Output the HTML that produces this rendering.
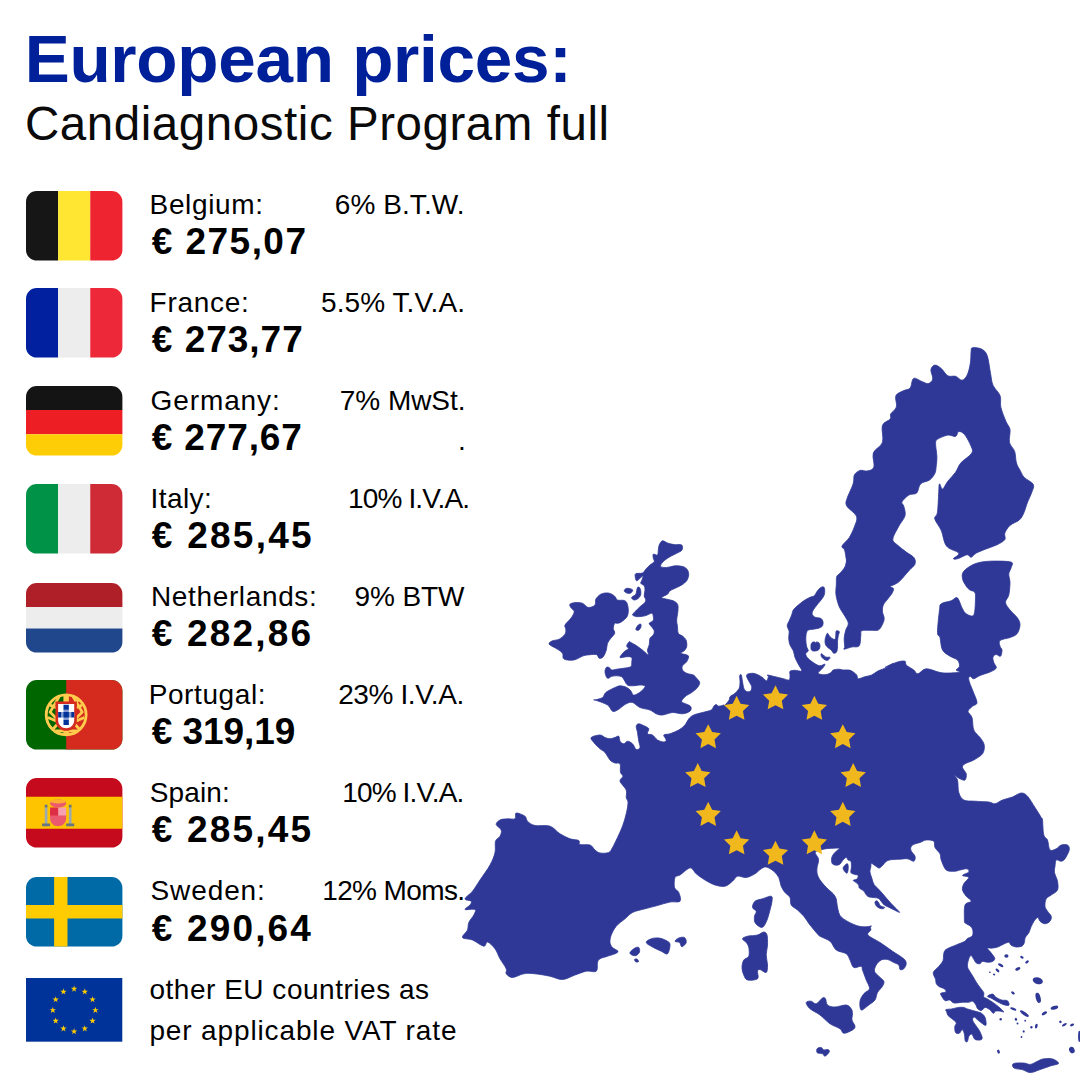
<!DOCTYPE html>
<html lang="en">
<head>
<meta charset="utf-8">
<title>European prices: Candiagnostic Program full</title>
<style>
html,body{margin:0;padding:0;background:#fff;}
body{width:1080px;height:1080px;position:relative;overflow:hidden;font-family:"Liberation Sans",sans-serif;color:#000;}
.t{position:absolute;white-space:nowrap;line-height:1;}
svg{position:absolute;display:block;overflow:visible;}
.flag{left:25.8px;width:96.4px;height:69.6px;}
</style>
</head>
<body>

<svg class="flag" style="top:191.3px" viewBox="0 5 36 26" preserveAspectRatio="none"><path fill="#161616" d="M4 5C1.791 5 0 6.791 0 9v18c0 2.209 1.791 4 4 4h8V5H4z"/><path fill="#FEE632" d="M12 5h12v26H12z"/><path fill="#EE2530" d="M32 5h-8v26h8c2.209 0 4-1.791 4-4V9c0-2.209-1.791-4-4-4z"/></svg>
<svg class="flag" style="top:287.9px" viewBox="0 5 36 26" preserveAspectRatio="none"><path fill="#00209F" d="M4 5C1.791 5 0 6.791 0 9v18c0 2.209 1.791 4 4 4h8V5H4z"/><path fill="#EDEDED" d="M12 5h12v26H12z"/><path fill="#ED2939" d="M32 5h-8v26h8c2.209 0 4-1.791 4-4V9c0-2.209-1.791-4-4-4z"/></svg>
<svg class="flag" style="top:385.9px" viewBox="0 5 36 26" preserveAspectRatio="none"><path fill="#141414" d="M4 5h28c2.209 0 4 1.791 4 4v5H0V9c0-2.209 1.791-4 4-4z"/><path fill="#ED1F24" d="M0 14h36v9H0z"/><path fill="#FFCD05" d="M0 23h36v4c0 2.209-1.791 4-4 4H4c-2.209 0-4-1.791-4-4z"/></svg>
<svg class="flag" style="top:483.8px" viewBox="0 5 36 26" preserveAspectRatio="none"><path fill="#009246" d="M4 5C1.791 5 0 6.791 0 9v18c0 2.209 1.791 4 4 4h8V5H4z"/><path fill="#EDEDED" d="M12 5h12v26H12z"/><path fill="#CE2B37" d="M32 5h-8v26h8c2.209 0 4-1.791 4-4V9c0-2.209-1.791-4-4-4z"/></svg>
<svg class="flag" style="top:582.7px" viewBox="0 5 36 26" preserveAspectRatio="none"><path fill="#AE1F28" d="M4 5h28c2.209 0 4 1.791 4 4v5H0V9c0-2.209 1.791-4 4-4z"/><path fill="#EDEDED" d="M0 14h36v8H0z"/><path fill="#20478B" d="M0 22h36v5c0 2.209-1.791 4-4 4H4c-2.209 0-4-1.791-4-4z"/></svg>
<svg class="flag" style="top:680.2px" viewBox="0 5 36 26" preserveAspectRatio="none"><path fill="#060" d="M4 5h28a4 4 0 0 1 4 4v18a4 4 0 0 1-4 4H4a4 4 0 0 1-4-4V9a4 4 0 0 1 4-4z"/><path fill="#D52B1E" d="M32 5H15v26h17c2.209 0 4-1.791 4-4V9c0-2.209-1.791-4-4-4z"/><g fill="none" stroke="#FFCC4D" stroke-width="1.05" stroke-linejoin="round"><circle cx="15" cy="18" r="7.45"/><path d="M15 10.6v14.8M14.5 10.8v14.6M15.5 10.8v14.6"/><path d="M12.4 11.2 L9 17 L12.6 20.6 L10.2 23.2 M9 14.4 L12 15.6 M8.2 19 L12.4 20.8 M11 24 h8"/><path d="M17.6 11.2 L21 17 L17.4 20.6 L19.8 23.2 M21 14.4 L18 15.6 M21.8 19 L17.6 20.8 M19.6 12.4 L17 14.6"/></g><path fill="#D52B1E" d="M11 13v7c0 2.209 1.791 4 4 4s4-1.791 4-4v-7h-8z"/><path fill="#FFF" d="M12 14v6c0 1.656 1.343 3 3 3s3-1.344 3-3v-6h-6z"/><path fill="#829ACD" d="M13 17h4v2h-4zM14 16h2v4h-2z"/><path fill="#039" d="M14 14.2h2v1.9h-2zM12 17h1.1v2H12zM14 17h2v2h-2zM16.9 17H18v2h-1.1zM14 19.9h2v1.9h-2z"/></svg>
<svg class="flag" style="top:778.4px" viewBox="0 5 36 26" preserveAspectRatio="none"><path fill="#C60A1D" d="M4 5h28a4 4 0 0 1 4 4v18a4 4 0 0 1-4 4H4a4 4 0 0 1-4-4V9a4 4 0 0 1 4-4z"/><path fill="#FFC400" d="M0 12h36v12H0z"/><path fill="#EA596E" d="M9 17v3c0 1.657 1.343 3 3 3s3-1.343 3-3v-3H9z"/><path fill="#F4A2B2" d="M12 16h3v3h-3z"/><path fill="#DD2E44" d="M9 16h3v3H9z"/><ellipse fill="#EA596E" cx="12" cy="14.5" rx="3" ry="1.5"/><ellipse fill="#FFAC33" cx="12" cy="13.75" rx="3" ry=".75"/><path fill="#99AAB5" d="M7 16h1v7H7zm9 0h1v7h-1z"/><path fill="#66757F" d="M6 22h3v1H6zm9 0h3v1h-3zm-8-7h1v1H7zm9 0h1v1h-1z"/></svg>
<svg class="flag" style="top:876.7px" viewBox="0 5 36 26" preserveAspectRatio="none"><path fill="#006AA7" d="M4 5h28a4 4 0 0 1 4 4v18a4 4 0 0 1-4 4H4a4 4 0 0 1-4-4V9a4 4 0 0 1 4-4z"/><path fill="#FECC00" d="M15.5 5h-5v10.5H0v5h10.5V31h5V20.5H36v-5H15.5z"/></svg>
<svg style="left:25.8px;top:978.1px;width:96.3px;height:63.7px" viewBox="0 0 96.3 63.7"><rect width="96.3" height="63.7" fill="#003399"/><path fill="#FFCC00" d="M48.10,7.50L48.86,9.85L51.33,9.85L49.34,11.30L50.10,13.65L48.10,12.20L46.10,13.65L46.86,11.30L44.87,9.85L47.34,9.85zM58.75,10.35L59.51,12.70L61.98,12.70L59.99,14.16L60.75,16.50L58.75,15.05L56.75,16.50L57.51,14.16L55.52,12.70L57.99,12.70zM66.55,18.15L67.31,20.50L69.78,20.50L67.78,21.95L68.54,24.30L66.55,22.85L64.55,24.30L65.31,21.95L63.31,20.50L65.78,20.50zM69.40,28.80L70.16,31.15L72.63,31.15L70.64,32.60L71.40,34.95L69.40,33.50L67.40,34.95L68.16,32.60L66.17,31.15L68.64,31.15zM66.55,39.45L67.31,41.80L69.78,41.80L67.78,43.25L68.54,45.60L66.55,44.15L64.55,45.60L65.31,43.25L63.31,41.80L65.78,41.80zM58.75,47.25L59.51,49.60L61.98,49.60L59.99,51.05L60.75,53.40L58.75,51.95L56.75,53.40L57.51,51.05L55.52,49.60L57.99,49.60zM48.10,50.10L48.86,52.45L51.33,52.45L49.34,53.90L50.10,56.25L48.10,54.80L46.10,56.25L46.86,53.90L44.87,52.45L47.34,52.45zM37.45,47.25L38.21,49.60L40.68,49.60L38.69,51.05L39.45,53.40L37.45,51.95L35.45,53.40L36.21,51.05L34.22,49.60L36.69,49.60zM29.65,39.45L30.42,41.80L32.89,41.80L30.89,43.25L31.65,45.60L29.65,44.15L27.66,45.60L28.42,43.25L26.42,41.80L28.89,41.80zM26.80,28.80L27.56,31.15L30.03,31.15L28.04,32.60L28.80,34.95L26.80,33.50L24.80,34.95L25.56,32.60L23.57,31.15L26.04,31.15zM29.65,18.15L30.42,20.50L32.89,20.50L30.89,21.95L31.65,24.30L29.65,22.85L27.66,24.30L28.42,21.95L26.42,20.50L28.89,20.50zM37.45,10.35L38.21,12.70L40.68,12.70L38.69,14.16L39.45,16.50L37.45,15.05L35.45,16.50L36.21,14.16L34.22,12.70L36.69,12.70z"/></svg>
<div class="t" style="left:24.7px;top:25.06px;font-size:67.5px;font-weight:bold;color:#00209a;letter-spacing:-0.288px">European prices:</div>
<div class="t" style="left:25.0px;top:99.79px;font-size:47.5px;color:#0a0a0a;letter-spacing:0.551px">Candiagnostic Program full</div>
<div class="t" style="left:149.6px;top:190.7px;font-size:28px;letter-spacing:0.635px">Belgium:</div>
<div class="t" style="left:334.8px;top:190.7px;font-size:28px;letter-spacing:0.067px">6% B.T.W.</div>
<div class="t" style="left:151.8px;top:222.88px;font-size:37px;font-weight:bold;letter-spacing:1.45px">€ 275,07</div>
<div class="t" style="left:149.6px;top:288.8px;font-size:28px;letter-spacing:0.709px">France:</div>
<div class="t" style="left:321.0px;top:288.8px;font-size:28px;letter-spacing:0.076px">5.5% T.V.A.</div>
<div class="t" style="left:151.8px;top:320.98px;font-size:37px;font-weight:bold;letter-spacing:0.993px">€ 273,77</div>
<div class="t" style="left:150.5px;top:386.9px;font-size:28px;letter-spacing:0.908px">Germany:</div>
<div class="t" style="left:339.8px;top:386.9px;font-size:28px;letter-spacing:-0.05px">7% MwSt.</div>
<div class="t" style="left:151.8px;top:419.08px;font-size:37px;font-weight:bold;letter-spacing:0.85px">€ 277,67</div>
<div class="t" style="left:150.6px;top:485.0px;font-size:28px;letter-spacing:0.41px">Italy:</div>
<div class="t" style="left:348.0px;top:485.0px;font-size:28px;letter-spacing:-0.849px">10% I.V.A.</div>
<div class="t" style="left:151.8px;top:517.18px;font-size:37px;font-weight:bold;letter-spacing:2.25px">€ 285,45</div>
<div class="t" style="left:151.0px;top:583.1px;font-size:28px;letter-spacing:0.638px">Netherlands:</div>
<div class="t" style="left:354.5px;top:583.1px;font-size:28px;letter-spacing:-0.105px">9% BTW</div>
<div class="t" style="left:151.8px;top:615.28px;font-size:37px;font-weight:bold;letter-spacing:2.165px">€ 282,86</div>
<div class="t" style="left:148.7px;top:681.2px;font-size:28px;letter-spacing:0.589px">Portugal:</div>
<div class="t" style="left:338.2px;top:681.2px;font-size:28px;letter-spacing:-0.404px">23% I.V.A.</div>
<div class="t" style="left:151.8px;top:713.38px;font-size:37px;font-weight:bold;letter-spacing:-0.064px">€ 319,19</div>
<div class="t" style="left:149.7px;top:779.3px;font-size:28px;letter-spacing:0.137px">Spain:</div>
<div class="t" style="left:342.2px;top:779.3px;font-size:28px;letter-spacing:-0.849px">10% I.V.A.</div>
<div class="t" style="left:151.8px;top:811.48px;font-size:37px;font-weight:bold;letter-spacing:2.165px">€ 285,45</div>
<div class="t" style="left:150.5px;top:877.4px;font-size:28px;letter-spacing:0.902px">Sweden:</div>
<div class="t" style="left:322.2px;top:877.4px;font-size:28px;letter-spacing:-0.618px">12% Moms.</div>
<div class="t" style="left:151.8px;top:909.58px;font-size:37px;font-weight:bold;letter-spacing:2.15px">€ 290,64</div>
<div class="t" style="left:458.0px;top:427.1px;font-size:28px;letter-spacing:0px">.</div>
<div class="t" style="left:149.4px;top:976.3px;font-size:28px;letter-spacing:0.523px">other EU countries as</div>
<div class="t" style="left:149.4px;top:1016.6px;font-size:28px;letter-spacing:0.869px">per applicable VAT rate</div>
<svg id="map" style="left:0;top:0;width:1080px;height:1080px" viewBox="0 0 1080 1080"><path fill="#2F3896" stroke="#2F3896" stroke-width="0.8" stroke-linejoin="round" d="M972.4,347.8C974.1,347.3 979.0,347.8 981.5,349.1C983.9,350.4 985.7,351.5 987.2,355.6C988.7,359.7 989.6,368.7 990.6,373.7C991.5,378.7 991.5,381.7 993.1,385.4C994.7,389.0 998.9,392.1 1000.1,395.7C1001.4,399.4 999.9,403.1 1000.9,407.4C1001.9,411.7 1004.6,418.0 1006.1,421.7C1007.6,425.3 1009.4,426.0 1010.0,429.4C1010.6,432.9 1008.7,438.7 1009.5,442.4C1010.3,446.1 1013.5,448.0 1014.7,451.5C1015.8,454.9 1015.5,459.9 1016.5,463.1C1017.4,466.4 1019.1,468.5 1020.4,470.9C1021.7,473.3 1022.1,475.2 1024.3,477.4C1026.4,479.7 1032.1,481.8 1033.3,484.4C1034.5,487.0 1032.5,490.0 1031.5,493.0C1030.6,495.9 1029.0,498.6 1027.6,502.0C1026.3,505.5 1024.9,510.7 1023.5,513.7C1022.1,516.7 1021.3,518.2 1019.1,520.2C1016.8,522.1 1012.4,523.2 1010.0,525.4C1007.6,527.5 1005.7,530.8 1004.8,533.1C1004.0,535.5 1006.1,537.7 1004.8,539.6C1003.5,541.6 1000.1,543.3 997.0,544.8C994.0,546.3 990.1,547.3 986.7,548.7C983.2,550.1 978.9,551.7 976.3,553.1C973.7,554.5 972.6,557.0 971.1,557.3C969.6,557.5 969.4,554.5 967.2,554.7C965.1,554.9 960.4,557.9 958.1,558.6C955.9,559.2 953.4,559.5 953.5,558.6C953.6,557.6 959.8,555.2 958.7,553.1C957.5,551.0 949.4,549.9 946.5,546.1C943.6,542.4 943.2,535.1 941.3,530.6C939.4,526.0 935.5,521.9 934.8,518.9C934.2,515.9 936.8,516.7 937.4,512.4C938.1,508.1 938.4,497.7 938.7,493.0C939.0,488.2 938.8,484.5 939.5,483.9C940.1,483.2 941.2,489.5 942.6,489.1C944.0,488.6 945.6,484.1 947.8,481.3C949.9,478.5 953.4,475.2 955.6,472.2C957.7,469.2 958.1,466.3 960.7,463.1C963.4,460.0 969.9,456.1 971.6,453.3C973.4,450.5 972.3,449.4 971.1,446.3C969.9,443.2 966.7,437.1 964.6,434.6C962.6,432.2 960.2,431.2 958.7,431.5C957.2,431.8 957.4,435.8 955.6,436.4C953.7,437.0 950.8,434.7 947.8,435.1C944.8,435.6 939.4,437.9 937.4,439.3C935.4,440.7 935.7,440.8 935.6,443.7C935.5,446.6 936.8,452.8 936.9,456.7C937.0,460.6 936.5,464.2 936.1,467.0C935.8,469.8 935.9,471.4 934.8,473.5C933.7,475.7 932.0,478.3 929.6,480.0C927.3,481.7 922.7,481.7 920.6,483.9C918.4,486.0 918.6,491.1 916.7,493.0C914.7,494.8 911.4,493.5 908.9,495.0C906.4,496.5 902.8,500.2 901.9,502.0C901.0,503.9 903.2,503.6 903.7,505.9C904.2,508.2 905.9,512.3 905.0,515.8C904.1,519.2 900.5,522.8 898.5,526.7C896.5,530.6 893.0,536.1 892.8,539.1C892.6,542.1 895.0,542.7 897.2,544.8C899.5,547.0 903.5,549.9 906.3,552.1C909.1,554.2 912.6,555.7 914.1,557.8C915.5,559.8 915.7,562.1 914.9,564.3C914.0,566.4 911.4,568.0 908.9,570.7C906.4,573.5 902.3,578.6 900.0,580.8C897.7,583.1 896.7,583.2 895.0,584.2C893.3,585.1 890.3,586.0 890.0,586.7C889.7,587.4 892.9,587.4 893.3,588.3C893.8,589.3 893.3,590.8 892.5,592.5C891.7,594.2 889.9,596.2 888.3,598.3C886.8,600.4 884.3,602.8 883.3,605.0C882.4,607.2 882.4,609.4 882.5,611.7C882.6,613.9 884.2,616.2 884.2,618.3C884.2,620.4 883.5,622.2 882.5,624.2C881.5,626.1 880.4,629.0 878.3,630.0C876.2,631.0 872.8,630.2 870.0,630.3C867.2,630.5 863.2,629.9 861.7,630.8C860.1,631.8 861.2,633.3 860.8,635.8C860.4,638.3 860.7,644.0 859.2,645.8C857.6,647.7 854.2,646.4 851.7,647.0C849.2,647.6 845.3,649.2 844.2,649.2C843.0,649.1 844.7,648.5 844.7,646.7C844.7,644.9 844.0,641.1 844.2,638.3C844.4,635.6 845.1,632.5 845.8,630.0C846.5,627.5 848.6,625.8 848.3,623.3C848.1,620.8 845.6,617.5 844.2,615.0C842.8,612.5 841.1,610.6 840.0,608.3C838.9,606.1 838.2,604.2 837.5,601.7C836.8,599.2 836.0,596.1 835.8,593.3C835.6,590.6 836.2,587.8 836.3,585.0C836.5,582.2 836.1,578.6 836.7,576.7C837.3,574.7 838.6,575.0 840.0,573.3C841.4,571.7 843.9,568.9 845.0,566.7C846.1,564.4 846.4,560.8 846.7,560.0C846.9,559.2 847.0,563.3 846.7,561.7C846.3,560.0 845.4,552.6 844.6,550.0C843.8,547.4 841.2,548.2 842.0,546.1C842.8,544.0 847.2,540.8 849.3,537.6C851.3,534.3 853.2,530.2 854.4,526.7C855.7,523.1 857.8,519.8 856.5,516.3C855.2,512.8 848.2,509.0 846.7,505.9C845.1,502.9 846.1,501.8 847.2,498.1C848.3,494.5 851.9,487.8 853.1,483.9C854.4,480.0 853.3,477.1 854.4,474.8C855.6,472.6 858.0,471.1 860.1,470.4C862.3,469.8 865.1,471.5 867.4,470.9C869.7,470.4 872.9,470.1 873.9,467.0C874.9,464.0 871.9,456.9 873.4,452.8C874.8,448.7 880.9,446.9 882.4,442.4C884.0,437.9 881.1,429.4 882.4,425.6C883.7,421.7 888.8,421.0 890.2,419.1C891.6,417.1 889.7,415.9 890.7,413.9C891.8,411.9 895.6,409.9 896.4,406.9C897.3,403.9 894.7,398.5 895.9,395.7C897.1,393.0 901.3,391.9 903.7,390.6C906.1,389.3 908.5,390.0 910.2,388.0C911.8,385.9 911.6,379.5 913.6,378.4C915.5,377.3 919.4,380.6 921.9,381.5C924.3,382.3 926.5,384.0 928.3,383.6C930.1,383.1 932.3,381.2 932.7,378.9C933.2,376.6 930.6,372.1 930.9,369.8C931.3,367.5 933.1,365.4 934.8,365.1C936.5,364.9 939.1,366.7 941.3,368.5C943.5,370.3 945.4,374.5 947.8,375.8C950.2,377.1 953.2,375.6 955.6,376.3C957.9,377.0 960.1,380.4 962.0,380.2C964.0,380.0 965.8,377.8 967.2,375.0C968.6,372.2 969.7,367.2 970.3,363.3C971.0,359.4 970.8,354.3 971.1,351.7C971.5,349.1 970.7,348.2 972.4,347.8zM963.8,571.2C965.8,568.8 970.6,565.4 975.0,563.8C979.4,562.1 984.0,561.5 990.0,561.2C996.0,561.0 1007.2,561.0 1010.8,562.0C1014.3,563.0 1011.6,565.5 1011.2,567.5C1010.9,569.5 1009.0,571.2 1008.8,573.8C1008.5,576.2 1010.0,579.0 1010.0,582.5C1010.0,586.0 1009.5,591.7 1008.8,595.0C1008.0,598.3 1005.3,600.0 1005.5,602.5C1005.7,605.0 1008.0,607.4 1010.0,610.0C1012.0,612.6 1015.8,615.5 1017.5,618.0C1019.2,620.5 1020.1,622.4 1020.0,625.0C1019.9,627.6 1018.7,631.7 1017.0,633.8C1015.3,635.8 1012.8,636.4 1010.0,637.5C1007.2,638.6 1001.7,639.0 1000.0,640.5C998.3,642.0 999.7,644.7 1000.0,646.2C1000.3,647.8 1001.9,648.3 1002.0,650.0C1002.1,651.7 1001.5,655.5 1000.5,656.2C999.5,657.0 997.5,654.4 996.2,654.5C995.0,654.6 993.4,655.7 993.0,657.0C992.6,658.3 993.2,660.7 993.8,662.5C994.3,664.3 996.9,666.4 996.2,668.0C995.6,669.6 992.7,670.8 990.0,672.0C987.3,673.2 982.7,674.4 980.0,675.5C977.3,676.6 975.4,678.6 973.8,678.8C972.1,678.9 970.8,676.0 970.0,676.2C969.2,676.5 968.3,677.7 968.8,680.0C969.2,682.3 971.1,686.2 972.5,690.0C973.9,693.8 977.0,699.8 977.0,702.5C977.0,705.2 974.0,704.8 972.5,706.2C971.0,707.7 968.1,709.4 968.0,711.2C967.9,713.1 971.0,714.4 972.0,717.5C973.0,720.6 972.4,726.7 973.8,730.0C975.1,733.3 978.2,735.0 980.0,737.5C981.8,740.0 983.8,742.3 984.2,745.0C984.7,747.7 984.2,751.2 982.5,753.8C980.8,756.2 976.7,758.3 973.8,760.0C970.8,761.7 966.9,762.5 965.0,763.8C963.1,765.0 962.3,765.8 962.5,767.5C962.7,769.2 965.8,771.7 966.2,773.8C966.7,775.8 966.0,779.2 965.0,780.0C964.0,780.8 961.9,779.6 960.0,778.8C958.1,777.9 954.2,774.8 953.8,775.0C953.3,775.2 956.7,777.1 957.5,780.0C958.3,782.9 957.7,789.2 958.8,792.5C959.8,795.8 961.0,798.5 963.8,800.0C966.5,801.5 970.8,800.9 975.0,801.2C979.2,801.6 985.4,801.6 988.8,802.0C992.1,802.4 992.7,804.1 995.0,803.8C997.3,803.4 999.6,801.1 1002.5,800.0C1005.4,798.9 1009.4,798.2 1012.5,797.0C1015.6,795.8 1018.8,793.1 1021.2,793.0C1023.8,792.9 1025.2,793.8 1027.5,796.2C1029.8,798.7 1032.7,804.0 1035.0,807.5C1037.3,811.0 1040.0,815.4 1041.2,817.5C1042.5,819.6 1042.1,817.1 1042.5,820.0C1042.9,822.9 1042.9,831.7 1043.8,835.0C1044.6,838.3 1046.5,837.5 1047.5,840.0C1048.5,842.5 1048.5,848.5 1050.0,850.0C1051.5,851.5 1054.4,849.6 1056.2,848.8C1058.1,847.9 1059.4,845.6 1061.2,845.0C1063.1,844.4 1066.2,844.2 1067.5,845.0C1068.8,845.8 1069.7,847.7 1069.2,850.0C1068.8,852.3 1066.3,856.9 1065.0,858.8C1063.7,860.6 1062.7,861.0 1061.2,861.2C1059.8,861.5 1057.3,859.2 1056.2,860.0C1055.2,860.8 1055.3,864.2 1055.0,866.2C1054.7,868.3 1054.1,870.0 1054.5,872.5C1054.9,875.0 1057.0,878.3 1057.5,881.2C1058.0,884.2 1058.5,887.7 1057.5,890.0C1056.5,892.3 1053.1,893.5 1051.2,895.0C1049.4,896.5 1047.3,896.9 1046.2,898.8C1045.2,900.6 1044.8,904.2 1045.0,906.2C1045.2,908.3 1046.5,909.6 1047.5,911.2C1048.5,912.9 1050.8,914.6 1051.2,916.2C1051.7,917.9 1051.0,920.0 1050.0,921.2C1049.0,922.5 1046.7,923.8 1045.0,923.8C1043.3,923.8 1041.2,922.3 1040.0,921.2C1038.8,920.2 1038.9,917.7 1038.0,917.5C1037.1,917.3 1036.0,918.5 1034.8,920.0C1033.7,921.5 1032.1,924.6 1031.1,926.7C1030.1,928.8 1029.9,930.7 1028.9,932.6C1027.9,934.4 1025.9,936.2 1025.2,937.8C1024.4,939.4 1024.9,940.9 1024.4,942.2C1024.0,943.6 1023.6,945.1 1022.2,945.9C1020.9,946.7 1018.1,947.1 1016.3,947.0C1014.4,946.8 1012.3,946.0 1011.1,945.2C1009.9,944.4 1010.0,942.5 1008.9,942.2C1007.8,942.0 1006.2,943.0 1004.4,943.7C1002.7,944.4 1000.5,945.9 998.5,946.7C996.5,947.4 994.4,947.9 992.6,948.1C990.7,948.4 987.9,947.7 987.4,948.1C986.9,948.6 988.8,950.0 989.6,951.1C990.5,952.2 991.7,953.6 992.6,954.8C993.5,956.0 994.8,957.4 994.8,958.5C994.8,959.6 993.7,960.9 992.6,961.5C991.5,962.1 989.9,962.2 988.1,962.2C986.4,962.2 983.6,961.2 982.2,961.5C980.9,961.7 981.0,963.5 980.0,963.7C979.0,964.0 977.4,963.8 976.3,963.0C975.2,962.1 974.2,959.8 973.3,958.5C972.5,957.3 971.9,955.6 971.1,955.6C970.4,955.6 969.5,956.8 968.9,958.5C968.3,960.2 967.3,963.8 967.4,965.9C967.5,968.0 968.6,969.3 969.6,971.1C970.6,973.0 972.2,975.2 973.3,977.0C974.4,978.9 975.2,980.5 976.3,982.2C977.4,984.0 978.8,985.7 980.0,987.4C981.2,989.1 983.1,991.0 983.7,992.6C984.3,994.2 983.2,996.0 983.7,997.0C984.2,998.0 985.2,997.7 986.7,998.5C988.1,999.4 990.6,1000.9 992.6,1002.2C994.6,1003.6 996.7,1005.1 998.5,1006.7C1000.4,1008.3 1003.5,1011.1 1003.7,1011.9C1004.0,1012.6 1001.4,1011.2 1000.0,1011.1C998.6,1011.0 996.7,1010.7 995.6,1011.1C994.4,1011.5 994.3,1013.6 993.3,1013.3C992.3,1013.1 991.0,1010.6 989.6,1009.6C988.3,1008.6 986.5,1007.3 985.2,1007.4C983.8,1007.5 982.7,1010.1 981.5,1010.4C980.2,1010.6 978.8,1009.9 977.8,1008.9C976.8,1007.9 976.4,1005.7 975.6,1004.4C974.7,1003.2 973.7,1001.6 972.6,1001.2C971.5,1000.8 970.5,1002.0 968.9,1002.2C967.3,1002.4 965.4,1002.1 963.0,1002.2C960.5,1002.3 956.3,1003.3 954.1,1003.0C951.9,1002.6 951.1,1000.4 949.6,1000.0C948.1,999.6 946.4,1001.2 945.2,1000.7C944.0,1000.2 943.0,998.3 942.2,997.0C941.5,995.8 940.1,994.2 940.7,993.3C941.4,992.5 945.3,992.6 945.9,991.9C946.5,991.1 945.6,989.8 944.4,988.9C943.3,988.0 940.6,987.5 939.3,986.7C937.9,985.8 936.9,984.9 936.3,983.7C935.7,982.5 936.0,981.1 935.6,979.3C935.1,977.4 932.8,974.7 933.3,972.6C933.8,970.5 936.9,968.6 938.5,966.7C940.1,964.7 942.1,962.8 943.0,960.7C943.8,958.6 943.2,955.9 943.7,954.1C944.2,952.2 944.0,951.1 945.9,949.6C947.9,948.1 952.5,946.5 955.6,945.2C958.6,943.8 962.5,942.6 964.4,941.5C966.4,940.4 966.2,939.4 967.4,938.5C968.6,937.7 970.9,937.4 971.9,936.3C972.8,935.2 973.2,933.5 973.0,931.9C972.9,930.2 972.4,928.1 971.1,926.7C969.8,925.2 966.3,924.1 965.2,923.0C964.1,921.9 964.5,923.0 964.4,920.0C964.4,917.0 963.9,908.1 965.0,905.0C966.1,901.9 971.0,902.7 971.2,901.2C971.5,899.8 967.7,898.1 966.2,896.2C964.8,894.4 962.9,892.1 962.5,890.0C962.1,887.9 962.7,885.8 963.8,883.8C964.8,881.7 969.0,878.9 968.8,877.5C968.5,876.1 962.5,876.4 962.5,875.5C962.5,874.6 968.0,873.1 968.8,872.0C969.5,870.9 968.5,869.1 967.0,868.8C965.5,868.4 962.0,869.6 960.0,870.0C958.0,870.4 957.3,871.2 955.0,871.2C952.7,871.2 948.5,871.9 946.2,870.0C944.0,868.1 942.3,862.7 941.2,860.0C940.2,857.3 941.0,855.8 940.0,853.8C939.0,851.7 936.0,849.6 935.0,847.5C934.0,845.4 935.2,842.5 933.8,841.2C932.3,840.0 928.5,839.8 926.2,840.0C924.0,840.2 922.3,841.7 920.0,842.5C917.7,843.3 914.0,843.8 912.5,845.0C911.0,846.2 910.3,848.1 910.8,850.0C911.2,851.9 914.5,854.4 915.0,856.2C915.5,858.1 915.0,860.8 913.8,861.2C912.5,861.7 909.8,859.1 907.5,858.8C905.2,858.4 902.8,859.0 900.0,859.2C897.2,859.3 893.1,859.4 890.7,859.8C888.4,860.2 887.5,860.5 886.1,861.5C884.7,862.5 883.6,864.6 882.4,865.6C881.2,866.7 880.4,868.0 879.2,868.0C877.9,868.0 876.3,866.4 875.0,865.6C873.7,864.9 872.0,863.1 871.3,863.3C870.6,863.6 871.1,865.6 870.8,867.0C870.6,868.4 869.8,869.8 869.9,871.7C870.1,873.5 871.1,876.0 871.8,878.1C872.5,880.3 872.9,882.8 874.1,884.6C875.2,886.5 876.9,887.3 878.7,889.3C880.6,891.3 883.2,894.4 885.2,896.7C887.2,899.0 888.9,901.1 890.7,903.1C892.6,905.2 894.8,907.2 896.3,908.7C897.8,910.2 899.8,912.2 899.5,912.4C899.2,912.6 896.2,910.9 894.4,910.1C892.7,909.2 890.6,908.2 888.9,907.3C887.2,906.5 885.5,905.9 884.3,905.0C883.0,904.1 882.4,902.8 881.5,901.8C880.6,900.7 879.9,899.2 878.7,898.5C877.5,897.8 875.6,897.8 874.1,897.6C872.5,897.4 870.8,897.6 869.4,897.1C868.1,896.7 867.1,895.8 866.2,894.8C865.3,893.8 865.0,892.3 863.9,891.1C862.7,890.0 860.1,888.8 859.3,887.9C858.4,886.9 859.3,886.4 858.8,885.6C858.3,884.7 857.4,883.6 856.5,882.8C855.6,881.9 853.2,881.1 853.2,880.5C853.3,879.8 856.1,879.9 856.9,879.1C857.8,878.2 858.5,876.1 858.1,875.4C857.8,874.6 855.8,874.9 854.6,874.4C853.4,874.0 851.5,873.8 850.9,872.6C850.4,871.4 851.4,868.9 851.4,867.0C851.4,865.2 851.5,862.6 850.9,861.5C850.4,860.3 848.8,860.7 848.1,860.1C847.5,859.5 847.2,858.2 846.8,857.8C846.3,857.4 846.1,857.3 845.4,857.8C844.7,858.2 843.5,859.5 842.6,860.6C841.7,861.6 840.9,863.5 839.8,864.3C838.7,865.0 837.3,865.3 836.1,865.2C834.9,865.1 833.2,864.7 832.4,863.8C831.6,862.9 831.5,860.9 831.5,859.6C831.5,858.3 831.8,857.2 832.4,855.9C833.0,854.7 834.2,853.3 835.2,852.2C836.2,851.1 837.8,850.1 838.4,849.4C839.0,848.8 839.6,848.3 838.9,848.1C838.2,847.9 836.1,848.2 834.3,848.2C832.4,848.3 829.9,848.3 827.8,848.5C825.7,848.8 823.8,849.0 821.8,849.6C819.7,850.2 815.9,850.9 815.3,852.2C814.7,853.6 817.5,856.2 818.1,857.8C818.6,859.3 818.7,859.9 818.5,861.5C818.4,863.0 817.4,865.0 817.1,867.0C816.9,869.0 816.7,871.5 817.1,873.5C817.5,875.5 818.3,877.1 819.4,879.1C820.6,881.0 822.5,883.3 824.1,885.1C825.6,886.9 827.2,888.3 828.7,889.7C830.2,891.2 832.1,892.4 833.3,893.9C834.6,895.4 835.5,896.8 836.1,898.5C836.7,900.2 836.7,902.2 837.0,904.1C837.3,905.9 837.5,907.8 838.0,909.6C838.4,911.5 838.9,913.6 839.8,915.2C840.7,916.7 842.1,917.8 843.5,918.9C844.9,920.0 846.5,920.7 848.1,921.7C849.8,922.6 851.9,923.7 853.7,924.4C855.6,925.2 857.4,925.9 859.3,926.3C861.1,926.7 862.8,926.8 864.8,926.8C866.8,926.8 870.4,926.4 871.3,926.3C872.2,926.2 870.1,925.6 870.0,926.2C869.9,926.9 871.1,928.5 870.8,930.0C870.4,931.5 866.5,932.9 868.0,935.0C869.5,937.1 875.9,939.8 880.0,942.5C884.1,945.2 888.5,948.5 892.5,951.2C896.5,954.0 901.5,956.7 903.8,958.8C906.0,960.8 906.2,962.1 906.2,963.8C906.2,965.4 904.8,967.8 903.8,968.8C902.7,969.7 900.8,970.1 900.0,969.5C899.2,968.9 899.8,966.2 898.8,965.0C897.7,963.8 895.6,963.4 893.8,962.5C891.9,961.6 889.6,959.9 887.5,959.5C885.4,959.1 883.1,959.1 881.2,960.0C879.4,960.9 877.4,963.1 876.2,965.0C875.1,966.9 874.1,969.4 874.5,971.2C874.9,973.1 877.2,974.6 878.8,976.2C880.3,977.9 883.1,979.6 883.8,981.2C884.4,982.9 883.5,984.4 882.5,986.2C881.5,988.1 878.8,990.2 877.5,992.5C876.2,994.8 876.5,997.9 875.0,1000.0C873.5,1002.1 871.0,1003.3 868.8,1005.0C866.5,1006.7 862.7,1010.6 861.2,1010.0C859.8,1009.4 859.6,1004.0 860.0,1001.2C860.4,998.5 862.2,995.8 863.8,993.8C865.3,991.7 869.1,991.0 869.5,988.8C869.9,986.5 867.4,983.1 866.2,980.0C865.1,976.9 863.3,972.3 862.5,970.0C861.7,967.7 862.7,966.7 861.2,966.2C859.8,965.8 855.6,968.5 853.8,967.5C851.9,966.5 851.2,962.3 850.0,960.0C848.8,957.7 848.5,955.4 846.2,953.8C844.0,952.1 839.0,952.1 836.2,950.0C833.5,947.9 832.7,943.5 830.0,941.2C827.3,939.0 822.3,937.7 820.0,936.2C817.7,934.8 817.9,934.4 816.2,932.5C814.6,930.6 812.1,927.7 810.0,925.0C807.9,922.3 805.8,918.8 803.8,916.2C801.7,913.8 799.6,911.9 797.5,910.0C795.4,908.1 792.5,907.1 791.2,905.0C790.0,902.9 791.0,899.6 790.0,897.5C789.0,895.4 786.5,894.4 785.0,892.5C783.5,890.6 782.3,888.8 781.2,886.2C780.2,883.8 780.0,880.0 778.8,877.5C777.5,875.0 775.8,873.0 773.8,871.2C771.7,869.5 768.3,867.4 766.2,867.0C764.2,866.6 763.1,867.6 761.2,868.8C759.4,869.9 757.5,872.3 755.0,873.8C752.5,875.2 749.2,877.1 746.2,877.5C743.3,877.9 739.8,875.6 737.5,876.2C735.2,876.9 734.6,879.6 732.5,881.2C730.4,882.9 727.9,885.6 725.0,886.2C722.1,886.9 718.3,886.0 715.0,885.0C711.7,884.0 708.1,881.9 705.0,880.0C701.9,878.1 698.5,875.8 696.2,873.8C694.0,871.8 692.9,868.6 691.2,868.0C689.6,867.4 688.1,868.8 686.2,870.0C684.4,871.2 681.9,873.8 680.0,875.0C678.1,876.2 675.9,875.4 675.0,877.5C674.1,879.6 673.9,885.0 674.5,887.5C675.1,890.0 677.8,890.2 678.8,892.5C679.7,894.8 681.5,899.7 680.0,901.2C678.5,902.8 673.8,901.3 670.0,902.0C666.2,902.7 661.7,904.4 657.5,905.5C653.3,906.6 649.2,907.6 645.0,908.8C640.8,909.9 635.8,910.8 632.5,912.5C629.2,914.2 627.7,916.5 625.0,918.8C622.3,921.0 618.5,923.5 616.2,926.2C614.0,929.0 612.3,932.3 611.2,935.0C610.2,937.7 609.8,940.4 610.0,942.5C610.2,944.6 611.2,946.0 612.5,947.5C613.8,949.0 617.6,950.2 618.0,951.2C618.4,952.3 616.8,952.9 615.0,953.8C613.2,954.6 610.0,955.4 607.5,956.2C605.0,957.1 601.7,957.7 600.0,958.8C598.3,959.8 598.1,960.4 597.5,962.5C596.9,964.6 598.1,969.8 596.2,971.2C594.4,972.7 589.8,970.6 586.2,971.2C582.7,971.9 579.0,973.6 575.0,975.0C571.0,976.4 566.7,979.3 562.5,979.5C558.3,979.7 554.6,977.2 550.0,976.2C545.4,975.3 539.4,974.2 535.0,973.8C530.6,973.3 527.5,973.1 523.8,973.8C520.0,974.4 515.4,977.5 512.5,977.5C509.6,977.5 507.3,975.2 506.2,973.8C505.2,972.3 507.3,971.2 506.2,968.8C505.2,966.2 501.9,962.1 500.0,958.8C498.1,955.4 497.1,951.5 495.0,948.8C492.9,946.0 489.4,942.4 487.5,942.0C485.6,941.6 486.2,946.6 483.8,946.2C481.2,945.9 476.0,941.5 472.5,940.0C469.0,938.5 463.3,939.2 462.5,937.5C461.7,935.8 466.5,932.5 467.5,930.0C468.5,927.5 467.7,925.0 468.8,922.5C469.8,920.0 472.7,917.2 473.8,915.0C474.8,912.8 476.5,910.4 475.0,909.5C473.5,908.6 465.8,910.2 465.0,909.5C464.2,908.8 469.0,906.4 470.0,905.0C471.0,903.6 472.1,902.3 471.2,901.2C470.4,900.2 464.8,900.4 465.0,898.8C465.2,897.1 470.0,894.4 472.5,891.2C475.0,888.1 477.1,884.4 480.0,880.0C482.9,875.6 487.5,869.6 490.0,865.0C492.5,860.4 494.1,856.5 495.0,852.5C495.9,848.5 494.7,844.0 495.5,841.2C496.3,838.5 499.0,838.1 500.0,836.2C501.0,834.4 501.9,832.0 501.2,830.0C500.6,828.0 496.5,826.2 496.2,824.5C496.0,822.8 498.1,821.0 500.0,820.0C501.9,819.0 505.0,819.0 507.5,818.8C510.0,818.5 513.5,819.7 515.0,818.8C516.5,817.8 514.6,813.4 516.2,813.0C517.9,812.6 523.1,814.9 525.0,816.2C526.9,817.6 525.8,819.7 527.5,821.2C529.2,822.8 531.2,824.7 535.0,825.5C538.8,826.3 545.8,824.9 550.0,826.2C554.2,827.6 556.7,831.7 560.0,833.8C563.3,835.8 566.9,837.6 570.0,838.8C573.1,839.9 577.1,839.5 578.8,840.5C580.4,841.5 578.1,843.8 580.0,844.5C581.9,845.2 587.5,844.1 590.0,845.0C592.5,845.9 593.3,848.7 595.0,850.0C596.7,851.3 597.7,852.6 600.0,853.0C602.3,853.4 606.7,853.4 608.8,852.5C610.8,851.6 611.0,850.0 612.5,847.5C614.0,845.0 615.8,841.0 617.5,837.5C619.2,834.0 621.0,830.2 622.5,826.2C624.0,822.3 625.3,817.7 626.2,813.8C627.2,809.8 628.0,805.2 628.0,802.5C628.0,799.8 626.5,799.6 626.2,797.5C626.0,795.4 627.3,792.7 626.2,790.0C625.2,787.3 620.5,783.5 620.0,781.2C619.5,779.0 622.9,777.7 623.0,776.2C623.1,774.8 621.0,774.6 620.5,772.5C620.0,770.4 620.9,765.3 620.0,763.8C619.1,762.2 616.7,763.6 615.0,763.0C613.3,762.4 611.7,761.8 610.0,760.0C608.3,758.2 606.7,754.4 605.0,752.5C603.3,750.6 601.9,750.4 600.0,748.8C598.1,747.1 595.2,744.4 593.8,742.5C592.3,740.6 590.2,738.8 591.2,737.5C592.3,736.2 597.7,735.0 600.0,735.0C602.3,735.0 603.3,736.9 605.0,737.5C606.7,738.1 608.3,738.8 610.0,738.8C611.7,738.8 613.5,737.9 615.0,737.5C616.5,737.1 617.9,735.6 618.8,736.2C619.6,736.9 619.2,740.0 620.0,741.2C620.8,742.5 622.5,743.8 623.8,743.8C625.0,743.8 626.0,741.2 627.5,741.2C629.0,741.2 631.0,742.4 632.5,743.8C634.0,745.1 635.0,748.9 636.2,749.5C637.5,750.1 639.6,748.9 640.0,747.5C640.4,746.1 639.2,743.8 638.8,741.2C638.3,738.8 637.9,735.0 637.5,732.5C637.1,730.0 636.0,727.7 636.2,726.2C636.5,724.8 637.3,723.8 638.8,723.8C640.2,723.8 643.3,725.4 645.0,726.2C646.7,727.1 648.3,727.5 648.8,728.8C649.2,730.0 646.9,732.7 647.5,733.8C648.1,734.8 650.8,734.0 652.5,735.0C654.2,736.0 655.6,738.8 657.5,740.0C659.4,741.2 662.3,742.0 663.8,742.0C665.2,742.0 666.2,741.2 666.2,740.0C666.2,738.8 663.1,736.0 663.8,735.0C664.4,734.0 667.5,734.6 670.0,733.8C672.5,732.9 676.2,731.5 678.8,730.0C681.2,728.5 683.3,726.9 685.0,725.0C686.7,723.1 687.3,720.4 688.8,718.8C690.2,717.1 691.5,716.0 693.8,715.0C696.0,714.0 699.6,713.3 702.5,712.5C705.4,711.7 709.4,711.0 711.2,710.0C713.1,709.0 712.9,707.2 713.8,706.2C714.6,705.3 715.4,704.5 716.2,704.5C717.1,704.5 717.5,706.2 718.8,706.2C720.0,706.3 722.7,705.2 723.8,705.0C724.8,704.8 724.1,705.8 725.0,705.0C725.9,704.2 728.3,701.4 729.2,700.0C730.0,698.6 729.0,697.8 730.0,696.7C731.0,695.6 733.5,694.7 735.0,693.3C736.5,691.9 738.3,690.3 739.2,688.3C740.0,686.4 739.9,683.8 740.0,681.7C740.1,679.6 739.4,676.9 739.7,675.8C739.9,674.7 740.9,674.0 741.3,675.0C741.8,676.0 742.0,679.3 742.5,681.7C743.0,684.0 743.3,687.5 744.2,689.2C745.0,690.8 746.4,691.4 747.5,691.7C748.6,691.9 750.1,691.7 750.8,690.8C751.5,690.0 751.9,688.2 751.7,686.7C751.4,685.1 750.0,683.3 749.2,681.7C748.3,680.0 746.9,677.9 746.7,676.7C746.4,675.4 746.4,674.7 747.5,674.2C748.6,673.6 751.5,673.2 753.3,673.3C755.1,673.5 756.8,674.3 758.3,675.0C759.9,675.7 761.1,676.5 762.5,677.5C763.9,678.5 765.7,681.0 766.7,680.8C767.6,680.7 768.2,677.6 768.3,676.7C768.5,675.7 766.4,675.0 767.5,675.0C768.6,675.0 772.4,676.1 775.0,676.7C777.6,677.3 781.0,678.1 783.3,678.7C785.7,679.2 788.1,680.6 789.2,680.0C790.3,679.4 789.9,676.4 790.0,675.0C790.1,673.6 789.2,672.1 790.0,671.3C790.8,670.6 793.1,670.4 795.0,670.3C796.9,670.2 801.1,671.9 801.7,670.8C802.2,669.8 799.4,666.4 798.3,664.2C797.2,661.9 795.8,659.7 795.0,657.5C794.2,655.3 794.2,652.9 793.3,650.8C792.5,648.8 790.8,647.1 790.0,645.0C789.2,642.9 788.8,640.6 788.7,638.3C788.5,636.1 789.4,633.8 789.2,631.7C788.9,629.6 787.2,627.6 787.2,625.8C787.2,624.0 788.4,622.6 789.2,620.8C789.9,619.0 791.0,616.8 791.7,615.0C792.4,613.2 792.2,611.7 793.3,610.0C794.4,608.3 796.4,606.7 798.3,605.0C800.3,603.3 802.9,601.3 805.0,600.0C807.1,598.7 809.3,597.7 810.8,597.0C812.4,596.3 813.1,596.9 814.2,595.8C815.3,594.8 816.4,592.2 817.5,590.8C818.6,589.4 819.8,588.1 820.8,587.5C821.9,586.9 823.0,586.6 823.7,587.0C824.3,587.4 824.6,588.7 824.7,590.0C824.8,591.3 824.7,593.5 824.2,595.0C823.7,596.5 822.6,597.8 821.7,599.2C820.7,600.6 819.4,601.9 818.3,603.3C817.2,604.7 816.0,606.1 815.0,607.5C814.0,608.9 812.9,610.4 812.5,611.7C812.1,612.9 811.9,614.0 812.5,615.0C813.1,616.0 814.4,616.9 815.8,617.5C817.2,618.1 819.6,617.6 820.8,618.3C822.0,619.0 822.7,620.4 823.0,621.7C823.3,622.9 823.1,624.8 822.5,625.8C821.9,626.9 820.7,627.4 819.2,628.0C817.6,628.6 815.1,628.8 813.3,629.2C811.5,629.5 809.5,629.3 808.3,630.0C807.2,630.7 806.8,631.7 806.3,633.3C805.9,635.0 805.8,637.8 805.8,640.0C805.9,642.2 806.2,644.9 806.7,646.7C807.1,648.5 808.5,649.7 808.3,650.8C808.2,651.9 806.1,652.4 805.8,653.3C805.6,654.3 805.8,655.4 806.7,656.7C807.5,657.9 809.3,659.6 810.8,660.8C812.4,662.1 814.3,663.3 815.8,664.2C817.4,665.0 818.5,665.8 820.0,665.8C821.5,665.8 824.6,663.8 825.0,664.2C825.4,664.6 823.6,666.9 822.5,668.3C821.4,669.7 818.8,671.5 818.3,672.5C817.9,673.5 818.9,673.8 820.0,674.2C821.1,674.5 823.3,674.8 825.0,674.7C826.7,674.5 828.6,674.1 830.0,673.3C831.4,672.6 831.8,670.7 833.3,670.0C834.9,669.3 837.5,669.2 839.2,669.2C840.8,669.2 841.7,669.9 843.3,670.0C845.0,670.1 847.5,669.7 849.2,670.0C850.8,670.3 852.1,671.2 853.3,672.0C854.6,672.8 855.8,673.9 856.7,675.0C857.5,676.1 856.9,678.4 858.3,678.7C859.7,678.9 862.8,677.3 865.0,676.7C867.2,676.1 869.4,676.0 871.7,675.0C873.9,674.0 875.8,672.1 878.3,670.8C880.8,669.6 884.2,668.8 886.7,667.5C889.2,666.2 893.6,663.3 893.3,663.3C893.1,663.3 884.3,667.7 885.0,667.5C885.7,667.3 894.2,663.0 897.5,662.0C900.8,661.0 903.5,660.8 905.0,661.2C906.5,661.8 904.8,663.5 906.2,665.0C907.7,666.5 911.8,668.5 913.8,670.0C915.7,671.5 915.9,674.0 918.0,673.8C920.1,673.5 922.6,669.0 926.2,668.8C929.9,668.5 936.0,671.8 940.0,672.5C944.0,673.2 946.7,673.1 950.0,673.0C953.3,672.9 959.0,672.5 960.0,672.0C961.0,671.5 956.3,671.0 956.2,670.0C956.2,669.0 959.3,667.9 959.5,666.2C959.7,664.6 959.1,661.7 957.5,660.0C955.9,658.3 952.5,657.9 950.0,656.2C947.5,654.6 944.2,653.1 942.5,650.0C940.8,646.9 940.8,640.4 940.0,637.5C939.2,634.6 937.6,637.1 937.5,632.5C937.4,627.9 938.9,614.8 939.5,610.0C940.1,605.2 939.3,605.3 941.2,603.8C943.2,602.2 948.8,601.8 951.2,600.8C953.8,599.7 955.0,597.6 956.2,597.5C957.5,597.4 957.7,598.1 958.8,600.0C959.8,601.9 961.2,606.5 962.5,608.8C963.8,611.0 964.4,612.7 966.2,613.8C968.1,614.8 972.2,617.7 973.8,615.0C975.3,612.3 975.4,601.3 975.5,597.5C975.6,593.7 975.4,593.2 974.5,592.0C973.6,590.8 971.4,591.0 970.0,590.0C968.6,589.0 967.5,588.1 966.2,586.2C965.0,584.4 962.9,581.2 962.5,578.8C962.1,576.2 961.7,573.8 963.8,571.2zM662.5,540.8C664.0,540.6 666.2,542.7 668.3,543.3C670.4,544.0 672.8,544.4 675.0,544.7C677.2,544.9 680.5,544.1 681.7,545.0C682.8,545.9 682.8,548.6 682.0,550.0C681.2,551.4 678.7,552.2 676.7,553.3C674.7,554.4 671.9,555.6 670.0,556.7C668.1,557.8 666.4,558.9 665.0,560.0C663.6,561.1 662.4,562.2 661.7,563.3C661.0,564.4 660.0,566.0 660.8,566.7C661.7,567.4 664.3,567.6 666.7,567.5C669.0,567.4 672.2,566.0 675.0,565.8C677.8,565.7 681.2,566.0 683.3,566.7C685.4,567.4 686.6,568.6 687.5,570.0C688.4,571.4 688.8,573.2 688.7,575.0C688.5,576.8 687.8,579.2 686.7,580.8C685.5,582.5 683.6,583.8 681.7,585.0C679.7,586.2 676.9,587.4 675.0,588.3C673.1,589.3 671.2,589.9 670.0,590.8C668.8,591.8 668.9,593.1 667.5,594.2C666.1,595.3 661.8,596.7 661.7,597.5C661.5,598.3 664.7,598.6 666.7,599.2C668.6,599.7 671.5,600.0 673.3,600.8C675.1,601.7 676.7,602.6 677.5,604.2C678.3,605.7 678.1,607.4 678.0,610.0C677.9,612.6 676.8,617.2 676.7,620.0C676.6,622.8 677.2,624.4 677.5,626.7C677.8,628.9 677.4,631.7 678.3,633.3C679.3,635.0 682.0,635.4 683.3,636.7C684.7,637.9 685.8,639.2 686.3,640.8C686.9,642.5 687.0,645.0 686.7,646.7C686.3,648.3 685.1,649.7 684.2,650.8C683.2,651.9 680.1,652.5 680.8,653.3C681.5,654.2 687.4,654.4 688.3,655.8C689.3,657.2 687.6,660.0 686.7,661.7C685.7,663.3 683.2,664.4 682.5,665.8C681.8,667.2 681.8,668.8 682.5,670.0C683.2,671.2 684.9,672.5 686.7,673.3C688.5,674.2 691.7,674.2 693.3,675.0C695.0,675.8 695.6,677.1 696.7,678.3C697.7,679.6 699.5,681.0 699.7,682.5C699.8,684.0 698.8,685.8 697.5,687.5C696.2,689.2 693.8,691.0 691.7,692.5C689.6,694.0 686.7,695.1 685.0,696.7C683.3,698.2 681.4,700.4 681.7,701.7C681.9,702.9 685.1,703.3 686.7,704.2C688.2,705.0 690.3,705.5 690.8,706.7C691.4,707.8 691.4,710.1 690.0,711.2C688.6,712.4 685.4,713.5 682.5,713.8C679.6,714.0 675.8,712.3 672.5,712.5C669.2,712.7 665.2,714.8 662.5,715.0C659.8,715.2 658.3,714.6 656.2,713.8C654.2,712.9 652.7,711.0 650.0,710.0C647.3,709.0 642.9,708.8 640.0,707.5C637.1,706.2 634.8,703.1 632.5,702.5C630.2,701.9 628.8,702.5 626.2,703.8C623.8,705.0 619.8,708.8 617.5,710.0C615.2,711.2 614.2,712.1 612.5,711.2C610.8,710.4 610.4,706.9 607.5,705.0C604.6,703.1 597.1,700.8 595.0,700.0C592.9,699.2 593.8,700.4 595.0,700.0C596.2,699.6 600.7,698.8 602.5,697.5C604.3,696.2 604.0,694.0 605.8,692.5C607.6,691.0 611.0,689.4 613.3,688.3C615.7,687.2 617.8,686.0 620.0,685.8C622.2,685.7 624.9,686.7 626.7,687.5C628.5,688.3 629.7,689.6 630.8,690.8C631.9,692.1 632.1,694.6 633.3,695.0C634.6,695.4 636.7,694.3 638.3,693.3C640.0,692.4 642.2,690.4 643.3,689.2C644.4,687.9 645.6,686.5 645.0,685.8C644.4,685.1 641.9,685.0 640.0,685.0C638.1,685.0 635.4,685.8 633.3,685.8C631.2,685.8 629.0,686.0 627.5,685.0C626.0,684.0 625.1,681.4 624.2,680.0C623.2,678.6 622.9,677.4 621.7,676.7C620.4,676.0 618.3,675.9 616.7,675.8C615.0,675.8 613.1,675.9 611.7,676.3C610.3,676.8 609.2,678.3 608.3,678.3C607.4,678.4 606.9,677.8 606.3,676.7C605.8,675.6 605.0,673.2 605.0,671.7C605.0,670.1 605.6,668.2 606.3,667.5C607.0,666.8 608.3,667.1 609.2,667.5C610.1,667.9 610.4,669.7 611.7,670.0C612.9,670.3 614.7,669.4 616.7,669.2C618.6,668.9 621.0,668.8 623.3,668.3C625.7,667.9 629.4,667.6 630.8,666.7C632.2,665.7 631.5,664.0 631.7,662.5C631.8,661.0 632.5,658.5 631.7,657.5C630.8,656.5 628.6,656.7 626.7,656.7C624.7,656.7 620.4,658.3 620.0,657.5C619.6,656.7 622.8,653.1 624.2,651.7C625.6,650.2 627.9,649.6 628.3,648.7C628.8,647.7 626.5,647.0 626.7,645.8C626.8,644.7 628.5,642.2 629.2,641.7C629.9,641.1 629.6,641.8 630.8,642.5C632.1,643.2 634.6,644.4 636.7,645.8C638.8,647.2 641.4,649.3 643.3,650.8C645.3,652.4 647.6,655.1 648.3,655.0C649.0,654.9 647.4,651.7 647.5,650.0C647.6,648.3 648.8,646.9 649.2,645.0C649.6,643.1 649.3,640.0 650.0,638.3C650.7,636.7 652.6,636.2 653.3,635.0C654.0,633.8 654.6,632.4 654.2,630.8C653.8,629.3 651.7,627.1 650.8,625.8C650.0,624.6 648.8,624.2 649.2,623.3C649.5,622.5 652.3,621.9 653.0,620.8C653.7,619.7 653.6,617.9 653.3,616.7C653.1,615.4 653.1,613.5 651.7,613.3C650.3,613.2 647.4,615.3 645.0,615.8C642.6,616.4 639.6,616.8 637.5,616.7C635.4,616.5 632.9,615.8 632.5,615.0C632.1,614.2 633.8,613.1 635.0,611.7C636.2,610.3 638.5,608.1 640.0,606.7C641.5,605.3 643.2,604.4 644.2,603.3C645.1,602.2 645.8,601.2 645.8,600.0C645.8,598.8 644.3,597.5 644.2,595.8C644.0,594.2 645.0,591.7 645.0,590.0C645.0,588.3 644.9,586.9 644.2,585.8C643.5,584.7 641.2,584.3 640.8,583.3C640.5,582.4 641.6,581.2 642.0,580.0C642.4,578.8 643.3,576.1 643.0,575.8C642.7,575.6 641.1,577.5 640.0,578.3C638.9,579.2 637.4,581.0 636.7,580.8C635.9,580.7 635.5,578.7 635.3,577.5C635.2,576.3 634.6,574.4 635.8,573.7C637.0,572.9 640.8,573.8 642.5,573.0C644.2,572.2 644.6,570.5 645.8,569.2C647.1,567.8 648.6,566.2 650.0,565.0C651.4,563.8 653.6,562.8 654.2,561.7C654.7,560.6 653.5,559.6 653.3,558.3C653.2,557.1 652.6,554.7 653.3,554.2C654.0,553.6 656.7,555.7 657.5,555.0C658.3,554.3 658.1,551.7 658.3,550.0C658.6,548.3 658.5,546.5 659.2,545.0C659.9,543.5 661.0,541.1 662.5,540.8zM570.0,604.2C570.8,603.3 573.8,602.6 575.8,602.5C577.9,602.4 580.4,602.5 582.5,603.3C584.6,604.2 586.2,607.2 588.3,607.5C590.4,607.8 593.8,606.4 595.0,605.0C596.2,603.6 594.9,601.0 595.8,599.2C596.8,597.4 598.8,595.2 600.8,594.2C602.9,593.1 606.1,592.7 608.3,593.0C610.6,593.3 612.6,594.7 614.2,595.8C615.7,597.0 616.0,599.2 617.5,600.0C619.0,600.8 621.8,599.9 623.3,600.3C624.9,600.8 625.8,600.9 626.7,602.5C627.5,604.1 628.3,607.6 628.3,610.0C628.4,612.4 628.1,614.7 627.0,616.7C625.9,618.6 623.2,620.6 621.7,621.7C620.1,622.8 618.7,623.1 617.5,623.3C616.3,623.6 615.4,622.5 614.7,623.3C614.0,624.2 613.3,626.7 613.3,628.3C613.3,630.0 615.1,631.7 614.7,633.3C614.2,635.0 612.0,636.7 610.8,638.3C609.6,640.0 608.2,641.4 607.5,643.3C606.8,645.3 607.0,647.8 606.3,650.0C605.6,652.2 604.5,655.3 603.3,656.7C602.1,658.1 600.3,658.7 599.2,658.3C598.1,658.0 598.2,655.3 596.7,654.7C595.1,654.1 592.2,654.5 590.0,654.7C587.8,654.9 585.8,655.0 583.3,655.8C580.8,656.7 577.6,659.0 575.0,659.7C572.4,660.4 569.4,660.2 567.5,660.0C565.6,659.8 564.2,659.4 563.3,658.3C562.5,657.2 563.5,654.9 562.5,653.3C561.5,651.8 559.7,650.7 557.5,649.2C555.3,647.6 550.0,645.6 549.2,644.2C548.3,642.8 550.8,641.7 552.5,640.8C554.2,640.0 557.1,640.3 559.2,639.2C561.2,638.1 563.9,635.8 565.0,634.2C566.1,632.5 565.8,630.7 565.8,629.2C565.8,627.6 564.2,626.8 565.0,625.0C565.8,623.2 569.3,620.6 570.8,618.3C572.4,616.1 574.2,613.5 574.2,611.7C574.2,609.9 571.5,608.8 570.8,607.5C570.1,606.2 569.2,605.0 570.0,604.2zM624.2,590.8C624.2,590.1 625.3,588.5 626.7,588.3C628.1,588.1 631.8,588.9 632.5,589.7C633.2,590.4 631.8,592.4 630.8,593.0C629.9,593.6 627.8,593.4 626.7,593.0C625.6,592.6 624.2,591.6 624.2,590.8zM631.7,597.5C631.9,596.5 634.9,595.8 635.8,594.2C636.8,592.5 636.8,588.5 637.5,587.5C638.2,586.5 639.4,587.2 640.0,588.3C640.6,589.4 641.1,592.5 640.8,594.2C640.6,595.8 639.4,597.4 638.3,598.3C637.2,599.3 635.3,600.1 634.2,600.0C633.1,599.9 631.4,598.5 631.7,597.5zM635.8,629.2C635.8,628.3 637.5,625.8 638.3,625.0C639.2,624.2 640.4,623.8 640.8,624.2C641.2,624.6 641.2,626.5 640.8,627.5C640.4,628.5 639.2,630.1 638.3,630.3C637.5,630.6 635.8,630.1 635.8,629.2zM811.0,645.0C811.1,643.8 811.5,643.0 812.1,642.5C812.7,642.0 814.0,641.9 814.6,641.9C815.1,641.9 815.1,642.7 815.4,642.7C815.8,642.7 816.1,641.9 816.7,641.9C817.3,642.0 818.4,642.3 819.0,642.9C819.6,643.6 820.0,644.8 820.0,645.8C820.0,646.9 819.7,648.4 819.2,649.2C818.6,650.0 817.6,650.4 816.7,650.7C815.7,651.0 814.2,651.2 813.3,651.0C812.4,650.8 811.6,650.6 811.2,649.6C810.9,648.6 810.9,646.2 811.0,645.0zM827.5,633.3C828.2,633.3 829.0,635.7 830.0,636.7C831.0,637.6 832.4,638.8 833.3,639.2C834.2,639.5 835.0,639.4 835.4,638.8C835.8,638.1 835.7,636.3 835.8,635.0C836.0,633.7 835.7,631.6 836.2,631.0C836.8,630.4 839.0,630.9 839.3,631.7C839.7,632.5 838.6,634.2 838.3,635.8C838.0,637.5 837.6,639.6 837.5,641.7C837.4,643.8 837.7,646.5 837.5,648.3C837.3,650.1 836.9,651.7 836.2,652.5C835.6,653.3 834.2,653.3 833.3,652.9C832.5,652.5 832.1,650.8 831.2,650.0C830.4,649.2 829.3,648.8 828.3,647.9C827.4,647.1 826.2,646.2 825.7,645.0C825.1,643.8 825.0,642.2 825.0,640.8C825.0,639.4 825.4,637.9 825.8,636.7C826.2,635.4 826.8,633.3 827.5,633.3zM821.2,653.8C821.6,653.5 822.6,654.4 823.3,655.0C824.1,655.6 824.7,656.7 825.8,657.1C826.9,657.5 829.5,656.9 830.0,657.3C830.5,657.8 829.3,659.1 828.8,659.6C828.2,660.1 827.6,660.6 826.7,660.4C825.8,660.3 824.2,659.4 823.3,658.8C822.4,658.1 821.6,657.1 821.2,656.2C820.9,655.4 820.9,654.0 821.2,653.8zM630.0,952.5C630.5,951.3 633.5,948.8 635.0,948.0C636.5,947.2 638.0,946.8 638.8,947.5C639.5,948.2 639.9,950.7 639.5,952.0C639.1,953.3 637.5,955.0 636.2,955.5C635.0,956.0 633.0,955.5 632.0,955.0C631.0,954.5 629.5,953.7 630.0,952.5zM634.5,959.5C634.7,959.0 636.3,958.7 637.0,959.0C637.7,959.3 638.7,961.0 638.5,961.5C638.3,962.0 636.7,962.3 636.0,962.0C635.3,961.7 634.3,960.0 634.5,959.5zM646.2,942.5C646.0,941.1 649.2,939.5 651.2,938.8C653.3,938.0 656.2,937.7 658.8,938.0C661.2,938.3 664.4,939.4 666.2,940.5C668.1,941.6 669.8,942.3 670.0,944.5C670.2,946.7 669.0,952.6 667.5,953.8C666.0,954.9 663.8,952.4 661.2,951.2C658.8,950.1 655.0,948.5 652.5,947.0C650.0,945.5 646.5,943.9 646.2,942.5zM675.0,941.2C674.9,940.5 677.2,938.6 678.8,938.0C680.3,937.4 683.2,936.8 684.5,937.5C685.8,938.2 686.5,941.0 686.2,942.5C686.0,944.0 683.8,945.6 683.0,946.2C682.2,946.9 681.8,946.9 681.2,946.2C680.7,945.6 680.5,943.3 679.5,942.5C678.5,941.7 675.1,942.0 675.0,941.2zM752.5,907.5C752.3,905.8 753.3,902.7 755.0,901.2C756.7,899.8 759.8,899.6 762.5,898.8C765.2,897.9 769.7,895.8 771.2,896.2C772.8,896.7 772.2,899.0 772.0,901.2C771.8,903.5 770.8,907.1 770.0,910.0C769.2,912.9 768.5,916.0 767.5,918.8C766.5,921.5 765.0,924.9 763.8,926.2C762.5,927.6 761.5,927.6 760.0,927.0C758.5,926.4 755.9,924.3 755.0,922.5C754.1,920.7 754.3,918.1 754.5,916.2C754.7,914.4 756.6,912.7 756.2,911.2C755.9,909.8 752.7,909.2 752.5,907.5zM742.5,938.8C742.7,937.7 745.0,936.9 747.5,936.2C750.0,935.6 754.8,935.7 757.5,935.0C760.2,934.3 762.2,932.0 763.8,932.0C765.3,932.0 766.4,932.8 767.0,935.0C767.6,937.2 767.6,941.7 767.5,945.0C767.4,948.3 766.2,951.7 766.2,955.0C766.2,958.3 767.5,962.1 767.5,965.0C767.5,967.9 767.5,971.8 766.2,972.5C765.0,973.2 761.5,969.7 760.0,969.5C758.5,969.3 757.9,969.7 757.5,971.2C757.1,972.8 759.2,977.3 757.5,978.8C755.8,980.2 749.8,980.6 747.5,980.0C745.2,979.4 744.7,977.1 743.8,975.0C742.8,972.9 742.0,970.0 742.0,967.5C742.0,965.0 742.6,961.9 743.8,960.0C744.9,958.1 747.9,958.3 748.8,956.2C749.6,954.2 749.2,949.8 748.8,947.5C748.3,945.2 747.3,944.0 746.2,942.5C745.2,941.0 742.3,939.8 742.5,938.8zM806.2,1002.5C806.5,1001.2 809.6,1001.0 811.2,1001.2C812.9,1001.5 814.4,1004.3 816.2,1003.8C818.1,1003.2 821.0,998.8 822.5,998.0C824.0,997.2 824.7,997.6 825.5,998.8C826.3,999.9 825.9,1003.6 827.5,1005.0C829.1,1006.4 831.9,1007.0 835.0,1007.0C838.1,1007.0 843.5,1004.7 846.2,1005.0C849.0,1005.3 850.2,1007.3 851.2,1008.8C852.3,1010.2 852.4,1011.9 852.5,1013.8C852.6,1015.6 851.6,1017.9 852.0,1020.0C852.4,1022.1 854.9,1024.6 855.0,1026.2C855.1,1027.9 854.4,1028.8 852.5,1030.0C850.6,1031.2 845.8,1033.5 843.8,1033.2C841.7,1033.0 842.3,1030.3 840.0,1028.8C837.7,1027.2 833.3,1026.0 830.0,1023.8C826.7,1021.5 823.3,1017.5 820.0,1015.0C816.7,1012.5 812.3,1010.8 810.0,1008.8C807.7,1006.7 806.0,1003.8 806.2,1002.5zM817.0,1048.8C817.6,1047.8 820.1,1047.3 821.2,1047.5C822.4,1047.7 822.6,1049.7 823.8,1050.0C824.9,1050.3 827.1,1049.2 828.0,1049.5C828.9,1049.8 829.8,1050.9 829.2,1052.0C828.8,1053.1 826.1,1056.0 825.0,1056.2C823.9,1056.5 823.8,1054.3 822.5,1053.8C821.2,1053.2 818.4,1053.8 817.5,1053.0C816.6,1052.2 816.4,1049.7 817.0,1048.8zM843.1,868.4C843.0,867.1 844.7,865.5 845.4,864.7C846.1,864.0 846.8,863.7 847.2,863.8C847.7,863.9 848.0,864.2 848.1,865.2C848.3,866.2 848.3,868.5 848.1,869.8C848.0,871.1 847.6,872.6 847.2,873.1C846.8,873.5 846.5,873.4 845.8,872.6C845.1,871.8 843.1,869.7 843.1,868.4zM875.0,901.8C875.3,901.3 876.2,900.7 876.9,900.8C877.5,901.0 878.2,901.9 878.7,902.7C879.2,903.5 879.4,904.8 880.1,905.5C880.8,906.2 882.1,906.5 882.9,906.9C883.6,907.2 884.6,907.0 884.7,907.3C884.8,907.6 884.2,908.5 883.3,908.7C882.5,908.9 880.8,908.7 879.6,908.2C878.5,907.8 877.1,906.7 876.4,905.9C875.6,905.2 875.4,904.3 875.2,903.6C875.0,902.9 874.7,902.2 875.0,901.8zM945.9,1009.6C946.8,1009.1 949.8,1009.3 951.9,1008.9C954.0,1008.5 956.5,1007.7 958.5,1007.4C960.5,1007.2 962.2,1007.2 963.7,1007.4C965.2,1007.7 965.6,1008.3 967.4,1008.9C969.3,1009.5 972.5,1010.4 974.8,1011.1C977.2,1011.9 979.8,1012.2 981.5,1013.3C983.2,1014.4 984.4,1015.8 985.2,1017.8C985.9,1019.8 986.5,1024.3 985.9,1025.2C985.3,1026.0 983.0,1024.0 981.5,1023.0C980.0,1022.0 978.3,1020.2 977.0,1019.3C975.8,1018.3 974.8,1016.9 974.1,1017.0C973.3,1017.2 972.3,1018.6 972.6,1020.0C972.8,1021.4 974.4,1023.5 975.6,1025.2C976.7,1026.9 978.1,1028.3 979.3,1030.4C980.4,1032.5 982.1,1036.2 982.2,1037.8C982.3,1039.4 981.2,1039.8 980.0,1040.0C978.8,1040.2 976.2,1040.2 974.8,1039.3C973.5,1038.3 972.8,1034.6 971.9,1034.1C970.9,1033.6 969.6,1035.1 968.9,1036.3C968.1,1037.5 968.0,1040.7 967.4,1041.5C966.8,1042.2 965.7,1042.0 965.2,1040.7C964.7,1039.5 964.9,1035.9 964.4,1034.1C964.0,1032.2 963.1,1029.8 962.2,1029.6C961.4,1029.5 960.4,1032.8 959.3,1033.3C958.1,1033.8 956.3,1033.7 955.6,1032.6C954.8,1031.5 954.7,1028.3 954.8,1026.7C954.9,1025.1 956.7,1024.2 956.3,1023.0C955.9,1021.7 954.0,1020.5 952.6,1019.3C951.2,1018.0 949.1,1016.8 948.1,1015.6C947.2,1014.3 947.0,1012.8 946.7,1011.9C946.3,1010.9 945.1,1010.1 945.9,1009.6zM987.4,996.3C987.5,995.6 991.2,994.0 992.6,994.1C994.0,994.2 994.1,996.0 995.6,997.0C997.0,998.0 999.5,999.4 1001.5,1000.0C1003.5,1000.6 1006.2,999.9 1007.4,1000.7C1008.6,1001.6 1009.6,1004.6 1008.9,1005.2C1008.1,1005.8 1004.9,1005.1 1003.0,1004.4C1001.0,1003.8 998.9,1002.5 997.0,1001.5C995.2,1000.5 993.5,999.4 991.9,998.5C990.2,997.7 987.3,997.0 987.4,996.3zM1013.3,1063.7C1014.9,1062.8 1020.9,1062.8 1023.7,1063.0C1026.5,1063.1 1028.1,1064.7 1030.4,1064.4C1032.6,1064.2 1034.9,1062.4 1037.0,1061.5C1039.1,1060.6 1040.4,1059.4 1043.0,1059.0C1045.6,1058.5 1050.0,1058.2 1052.6,1059.0C1055.2,1059.7 1058.9,1062.2 1058.5,1063.4C1058.1,1064.6 1053.5,1064.9 1050.4,1065.9C1047.3,1067.0 1043.3,1068.5 1040.0,1069.6C1036.7,1070.7 1033.3,1072.6 1030.4,1072.6C1027.4,1072.6 1024.9,1070.4 1022.2,1069.6C1019.5,1068.9 1015.6,1069.1 1014.1,1068.1C1012.6,1067.2 1011.7,1064.6 1013.3,1063.7z"/><ellipse cx="1006.4" cy="956.0" rx="2.1" ry="1.8" fill="#2F3896" transform="rotate(0 1006.4 956.0)"/><ellipse cx="1021.9" cy="957.3" rx="1.8" ry="1.2" fill="#2F3896" transform="rotate(30 1021.9 957.3)"/><ellipse cx="1027.0" cy="961.9" rx="2.1" ry="1.2" fill="#2F3896" transform="rotate(-35 1027.0 961.9)"/><ellipse cx="1017.8" cy="968.9" rx="2.7" ry="1.5" fill="#2F3896" transform="rotate(-25 1017.8 968.9)"/><ellipse cx="1000.7" cy="965.2" rx="3.0" ry="1.3" fill="#2F3896" transform="rotate(30 1000.7 965.2)"/><ellipse cx="997.5" cy="970.4" rx="2.4" ry="1.2" fill="#2F3896" transform="rotate(45 997.5 970.4)"/><ellipse cx="994.1" cy="974.5" rx="1.2" ry="0.9" fill="#2F3896" transform="rotate(30 994.1 974.5)"/><ellipse cx="989.9" cy="972.3" rx="0.9" ry="0.7" fill="#2F3896" transform="rotate(0 989.9 972.3)"/><ellipse cx="1037.8" cy="980.7" rx="5.2" ry="3.3" fill="#2F3896" transform="rotate(15 1037.8 980.7)"/><ellipse cx="1038.2" cy="997.8" rx="2.4" ry="5.2" fill="#2F3896" transform="rotate(-15 1038.2 997.8)"/><ellipse cx="1013.0" cy="992.9" rx="2.1" ry="1.2" fill="#2F3896" transform="rotate(35 1013.0 992.9)"/><ellipse cx="1013.3" cy="1008.9" rx="3.3" ry="1.3" fill="#2F3896" transform="rotate(20 1013.3 1008.9)"/><ellipse cx="1024.4" cy="1013.6" rx="5.2" ry="1.6" fill="#2F3896" transform="rotate(35 1024.4 1013.6)"/><ellipse cx="1054.4" cy="1007.7" rx="3.9" ry="1.8" fill="#2F3896" transform="rotate(-15 1054.4 1007.7)"/><ellipse cx="1044.4" cy="1013.3" rx="3.0" ry="1.5" fill="#2F3896" transform="rotate(-30 1044.4 1013.3)"/><ellipse cx="1000.7" cy="1019.3" rx="1.2" ry="1.2" fill="#2F3896" transform="rotate(0 1000.7 1019.3)"/><ellipse cx="1015.9" cy="1019.3" rx="1.2" ry="1.5" fill="#2F3896" transform="rotate(-20 1015.9 1019.3)"/><ellipse cx="1017.5" cy="1023.4" rx="1.0" ry="1.0" fill="#2F3896" transform="rotate(0 1017.5 1023.4)"/><ellipse cx="1025.2" cy="1020.7" rx="0.9" ry="0.9" fill="#2F3896" transform="rotate(0 1025.2 1020.7)"/><ellipse cx="1036.3" cy="1026.1" rx="1.3" ry="2.4" fill="#2F3896" transform="rotate(15 1036.3 1026.1)"/><ellipse cx="1031.4" cy="1027.3" rx="1.3" ry="1.2" fill="#2F3896" transform="rotate(-20 1031.4 1027.3)"/><ellipse cx="1023.7" cy="1031.4" rx="1.0" ry="1.2" fill="#2F3896" transform="rotate(0 1023.7 1031.4)"/><ellipse cx="1021.5" cy="1037.0" rx="0.9" ry="0.9" fill="#2F3896" transform="rotate(0 1021.5 1037.0)"/><ellipse cx="1060.4" cy="1021.9" rx="1.3" ry="1.2" fill="#2F3896" transform="rotate(40 1060.4 1021.9)"/><ellipse cx="1064.4" cy="1024.7" rx="2.7" ry="1.2" fill="#2F3896" transform="rotate(-30 1064.4 1024.7)"/><ellipse cx="1072.1" cy="1024.9" rx="2.2" ry="1.2" fill="#2F3896" transform="rotate(-25 1072.1 1024.9)"/><ellipse cx="1079.3" cy="1036.3" rx="1.2" ry="5.6" fill="#2F3896" transform="rotate(0 1079.3 1036.3)"/><ellipse cx="1071.9" cy="1050.1" rx="2.7" ry="3.3" fill="#2F3896" transform="rotate(-25 1071.9 1050.1)"/><ellipse cx="998.5" cy="1051.6" rx="1.3" ry="2.1" fill="#2F3896" transform="rotate(-20 998.5 1051.6)"/><path fill="#F0B81C" d="M775.50,685.30L779.41,693.22L788.15,694.49L781.82,700.65L783.32,709.36L775.50,705.25L767.68,709.36L769.18,700.65L762.85,694.49L771.59,693.22zM814.35,695.71L818.26,703.63L827.00,704.90L820.67,711.06L822.17,719.77L814.35,715.66L806.53,719.77L808.03,711.06L801.70,704.90L810.44,703.63zM842.79,724.15L846.70,732.07L855.44,733.34L849.11,739.50L850.61,748.21L842.79,744.10L834.97,748.21L836.47,739.50L830.14,733.34L838.88,732.07zM853.20,763.00L857.11,770.92L865.85,772.19L859.52,778.35L861.02,787.06L853.20,782.95L845.38,787.06L846.88,778.35L840.55,772.19L849.29,770.92zM842.79,801.85L846.70,809.77L855.44,811.04L849.11,817.20L850.61,825.91L842.79,821.80L834.97,825.91L836.47,817.20L830.14,811.04L838.88,809.77zM814.35,830.29L818.26,838.21L827.00,839.48L820.67,845.65L822.17,854.35L814.35,850.24L806.53,854.35L808.03,845.65L801.70,839.48L810.44,838.21zM775.50,840.70L779.41,848.62L788.15,849.89L781.82,856.05L783.32,864.76L775.50,860.65L767.68,864.76L769.18,856.05L762.85,849.89L771.59,848.62zM736.65,830.29L740.56,838.21L749.30,839.48L742.97,845.65L744.47,854.35L736.65,850.24L728.83,854.35L730.33,845.65L724.00,839.48L732.74,838.21zM708.21,801.85L712.12,809.77L720.86,811.04L714.53,817.20L716.03,825.91L708.21,821.80L700.39,825.91L701.89,817.20L695.56,811.04L704.30,809.77zM697.80,763.00L701.71,770.92L710.45,772.19L704.12,778.35L705.62,787.06L697.80,782.95L689.98,787.06L691.48,778.35L685.15,772.19L693.89,770.92zM708.21,724.15L712.12,732.07L720.86,733.34L714.53,739.50L716.03,748.21L708.21,744.10L700.39,748.21L701.89,739.50L695.56,733.34L704.30,732.07zM736.65,695.71L740.56,703.63L749.30,704.90L742.97,711.06L744.47,719.77L736.65,715.66L728.83,719.77L730.33,711.06L724.00,704.90L732.74,703.63z"/></svg>
</body>
</html>
